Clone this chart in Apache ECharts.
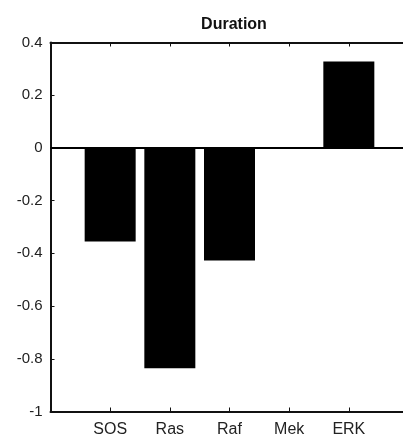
<!DOCTYPE html>
<html>
<head>
<meta charset="utf-8">
<script src="https://cdn.jsdelivr.net/npm/echarts@6/dist/echarts.min.js"></script>
<style>
  html, body { margin: 0; padding: 0; background: #fff; }
  #chart { width: 403px; height: 440px; }
</style>
</head>
<body>
<div id="chart"></div>
<script>
// Signalling species along the pathway and their duration coefficient
const categories = ['SOS', 'Ras', 'Raf', 'Mek', 'ERK'];
const durationValues = [-0.355, -0.836, -0.427, 0, 0.328];
const yTicks = { min: -1, max: 0.4, step: 0.2 };

const chart = echarts.init(document.getElementById('chart'), null, { renderer: 'canvas' });

// bars sit at positions 1..5 on a 0..6 x range
const barData = durationValues.map((v, i) => [i + 1, v]);

const axisColor = '#111';
const labelColor = '#222';
const fontFamily = 'Liberation Sans, Arial, sans-serif';

chart.setOption({
  animation: false,
  backgroundColor: '#fff',
  title: {
    text: 'Duration',
    left: 229,
    top: 12,
    textAlign: 'center',
    textStyle: { fontFamily, fontSize: 16, fontWeight: 'bold', color: '#111' }
  },
  grid: { left: 50.5, top: 42.5, width: 358, height: 369, outerBoundsMode: 'none' },
  xAxis: [
    {
      type: 'value',
      position: 'bottom',
      min: 0, max: 6, interval: 1,
      splitLine: { show: false },
      axisLine: { onZero: false, lineStyle: { color: axisColor, width: 2 } },
      axisTick: { inside: true, length: 4, lineStyle: { color: axisColor } },
      axisLabel: {
        margin: 10,
        color: labelColor, fontFamily, fontSize: 16,
        formatter: v => categories[v - 1] || ''
      }
    },
    {
      type: 'value',
      position: 'top',
      min: 0, max: 6, interval: 1,
      splitLine: { show: false },
      axisLine: { onZero: false, lineStyle: { color: axisColor, width: 2 } },
      axisTick: { inside: true, length: 4, lineStyle: { color: axisColor } },
      axisLabel: { show: false }
    }
  ],
  yAxis: {
    type: 'value',
    min: yTicks.min, max: yTicks.max, interval: yTicks.step,
    splitLine: { show: false },
    axisLine: { show: true, onZero: false, lineStyle: { color: axisColor, width: 2 } },
    axisTick: { show: true, inside: true, length: 4, lineStyle: { color: axisColor } },
    axisLabel: {
      margin: 8,
      color: labelColor, fontFamily, fontSize: 15,
      formatter: v => String(Math.round(v * 10) / 10)
    }
  },
  series: [{
    type: 'bar',
    xAxisIndex: 0,
    data: barData,
    barWidth: 51,
    itemStyle: { color: '#000' },
    markLine: {
      silent: true,
      symbol: 'none',
      label: { show: false },
      lineStyle: { color: '#000', width: 2, type: 'solid' },
      data: [{ yAxis: 0 }]
    }
  }]
});
</script>
</body>
</html>
